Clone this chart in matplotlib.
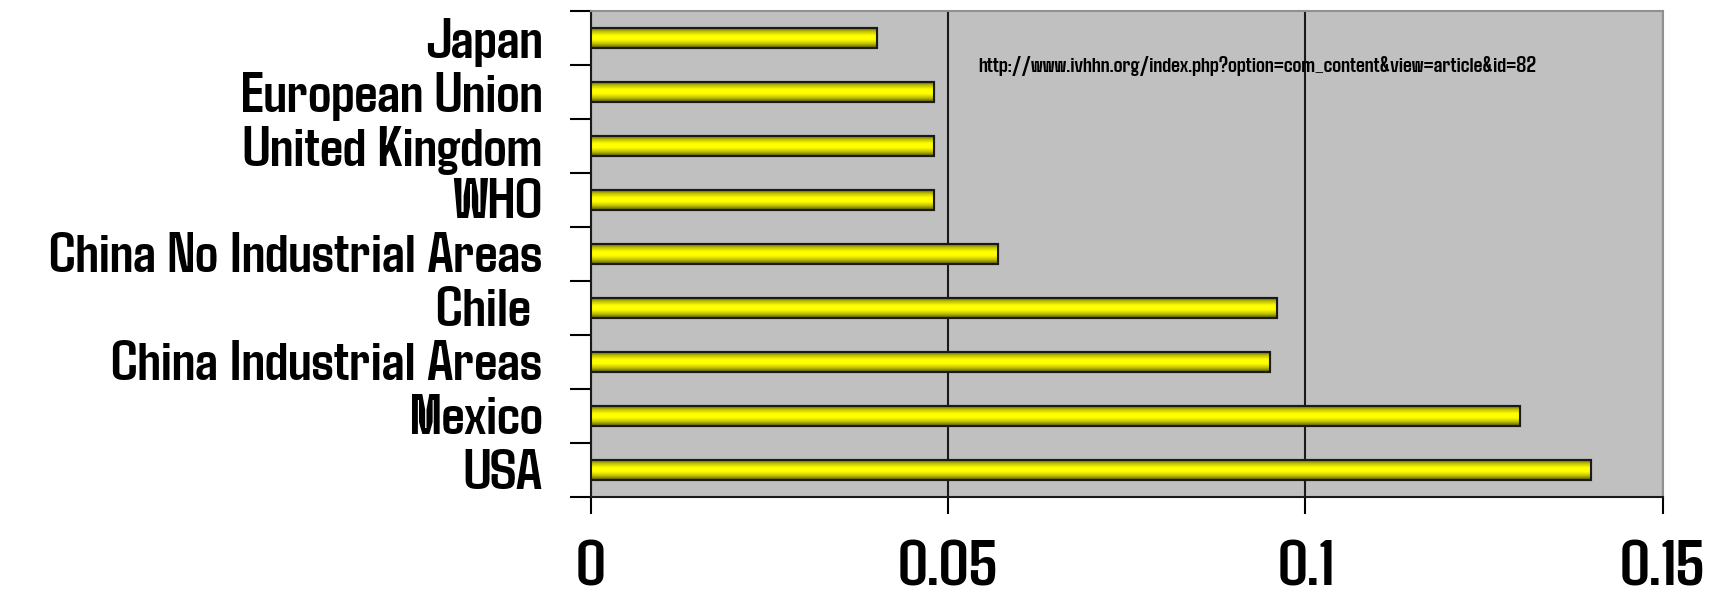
import numpy as np
import matplotlib.pyplot as plt
from matplotlib.colors import LinearSegmentedColormap
from matplotlib.ticker import FixedLocator

# PM10 guideline values by country/organisation (top to bottom)
countries = ["Japan", "European Union", "United Kingdom", "WHO",
             "China No Industrial Areas", "Chile ", "China Industrial Areas",
             "Mexico", "USA"]
values = [0.04, 0.048, 0.048, 0.048, 0.057, 0.096, 0.095, 0.13, 0.14]
xticks = [0, 0.05, 0.1, 0.15]
xticklabels = ["0", "0.05", "0.1", "0.15"]
source = "http://www.ivhhn.org/index.php?option=com_content&view=article&id=82"

fnt = ["Agdasima", "Fira Sans Extra Condensed", "DejaVu Sans"]

fig = plt.figure(figsize=(17.23, 5.97), dpi=100)
ax = fig.add_axes([0.343, 0.1675, 0.622, 0.8141])
ax.set_facecolor("#c0c0c0")

ypos = np.arange(len(countries))
bars = ax.barh(ypos, values, height=0.38, color="#ffff00",
               edgecolor="#1a1a1a", linewidth=1.5, zorder=3)

# vertical shading inside every bar (dark rims, bright middle)
cmap = LinearSegmentedColormap.from_list("ybar", ["#555500", "#c0c000", "#ffff00", "#ffff00", "#c0c000", "#555500"])
grad = np.linspace(0, 1, 64).reshape(-1, 1)
for b in bars:
    x0, y0 = b.get_x(), b.get_y()
    w, h = b.get_width(), b.get_height()
    im = ax.imshow(grad, cmap=cmap, aspect="auto", extent=[x0, x0 + w, y0, y0 + h],
                   origin="lower", zorder=3.5, interpolation="bilinear")
    im.set_clip_path(b)
    ax.add_patch(plt.Rectangle((x0, y0), w, h, fill=False, edgecolor="#1a1a1a",
                               linewidth=1.5, zorder=4))

ax.set_xlim(0, 0.15)
ax.set_ylim(len(countries) - 0.5, -0.5)

ax.set_xticks(xticks)
ax.set_xticklabels(xticklabels, family=fnt, fontweight="bold", fontsize=46)
ax.tick_params(axis="x", direction="out", length=12, width=1.5, pad=22)

ax.set_yticks(ypos)
ax.set_yticklabels(countries, family=fnt, fontweight="bold", fontsize=41)
ax.tick_params(axis="y", which="major", length=0, pad=35)
ax.yaxis.set_minor_locator(FixedLocator(np.arange(-0.5, len(countries), 1.0)))
ax.tick_params(axis="y", which="minor", direction="out", length=15, width=1.5)

ax.grid(axis="x", color="#1a1a1a", linewidth=1.5, zorder=1)
ax.set_axisbelow(True)

for s in ["left", "bottom"]:
    ax.spines[s].set_color("#1a1a1a")
    ax.spines[s].set_linewidth(1.5)
for s in ["top", "right"]:
    ax.spines[s].set_color("#909090")
    ax.spines[s].set_linewidth(1.5)

ax.text(0.361, 0.887, source, transform=ax.transAxes, family=fnt,
        fontweight="bold", fontsize=15.7, va="center", ha="left", zorder=5)

fig.savefig("out.png", dpi=100)
